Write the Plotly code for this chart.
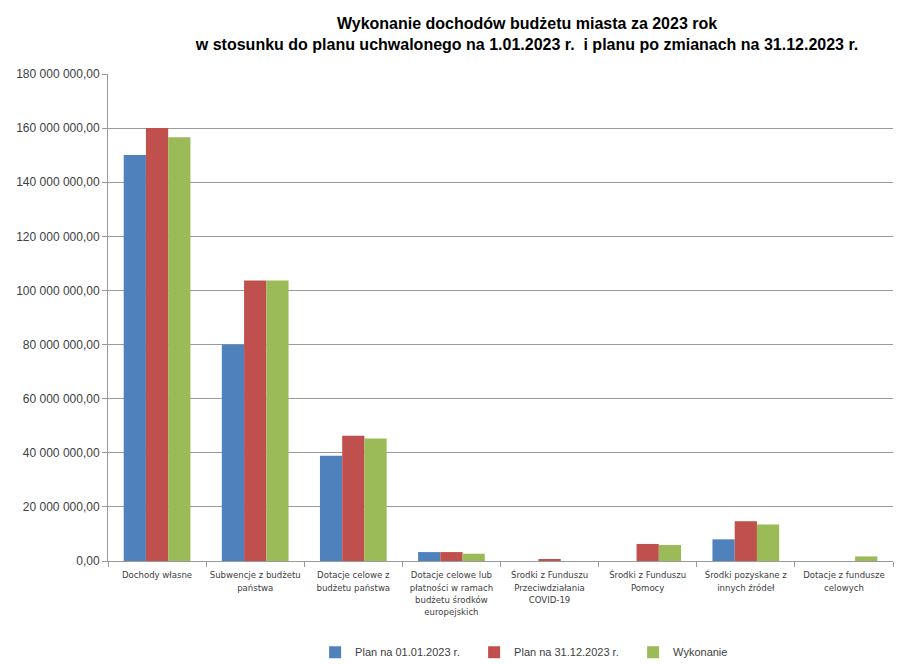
import plotly.graph_objects as go

categories = [
    "Dochody własne",
    "Subwencje z budżetu<br>państwa",
    "Dotacje celowe z<br>budżetu państwa",
    "Dotacje celowe lub<br>płatności w ramach<br>budżetu środków<br>europejskich",
    "Środki z Funduszu<br>Przeciwdziałania<br>COVID-19",
    "Środki z Funduszu<br>Pomocy",
    "Środki pozyskane z<br>innych źródeł",
    "Dotacje z fundusze<br>celowych",
]
plan_0101 = [150_100_000, 80_000_000, 38_900_000, 3_300_000, 0, 0, 8_000_000, 0]
plan_3112 = [160_000_000, 103_700_000, 46_300_000, 3_300_000, 700_000, 6_300_000, 14_700_000, 0]
wykonanie = [156_600_000, 103_700_000, 45_300_000, 2_700_000, 0, 5_900_000, 13_500_000, 1_700_000]
series_names = ["Plan na 01.01.2023 r.", "Plan na 31.12.2023 r.", "Wykonanie"]
colors = ["#4F81BD", "#C0504D", "#9BBB59"]
y_ticks = [0, 20e6, 40e6, 60e6, 80e6, 100e6, 120e6, 140e6, 160e6, 180e6]

font_fam = "Liberation Sans, Arial, sans-serif"
narrow = "DejaVu Sans Condensed, Liberation Sans, Arial, sans-serif"

fig = go.Figure()
for name, vals, col in zip(series_names, [plan_0101, plan_3112, wykonanie], colors):
    fig.add_trace(go.Bar(x=categories, y=vals, name=name, marker=dict(color=col, line=dict(width=0))))

fig.update_layout(
    width=898, height=656,
    paper_bgcolor="white", plot_bgcolor="white",
    separators=", ",
    barmode="group", bargap=0.32, bargroupgap=0,
    margin=dict(l=100, r=13, t=66, b=103),
    font=dict(family=font_fam, size=11, color="#404040"),
    title=dict(
        text="<b>Wykonanie dochodów budżetu miasta za 2023 rok<br>w stosunku do planu uchwalonego na 1.01.2023 r.  i planu po zmianach na 31.12.2023 r.</b>",
        x=0.578, xanchor="center", y=0.968, yanchor="top",
        font=dict(family=font_fam, size=16, color="#000000"),
    ),
    legend=dict(
        orientation="h", xref="container", yref="container",
        x=0.342, xanchor="left", y=0.018, yanchor="middle",
        font=dict(family=font_fam, size=11, color="#404040"),
        itemwidth=30, entrywidth=114, entrywidthmode="pixels",
    ),
    showlegend=True,
)
fig.update_xaxes(
    automargin=False, tickangle=0, ticklabelstandoff=5,
    showline=True, linecolor="#9a9a9a", linewidth=1,
    ticks="outside", tickson="boundaries", ticklen=5, tickcolor="#9a9a9a",
    tickfont=dict(family=narrow, size=9.5, color="#404040"),
    showgrid=False,
)
fig.update_yaxes(
    automargin=False,
    range=[0, 180e6], tickvals=y_ticks, tickformat=",.2f",
    showline=True, linecolor="#9a9a9a", linewidth=1,
    ticks="outside", ticklen=5, tickcolor="#9a9a9a",
    showgrid=True, gridcolor="#9a9a9a", gridwidth=1,
    tickfont=dict(family=font_fam, size=12, color="#404040"),
    zeroline=False,
)
fig.write_html("out.html")
